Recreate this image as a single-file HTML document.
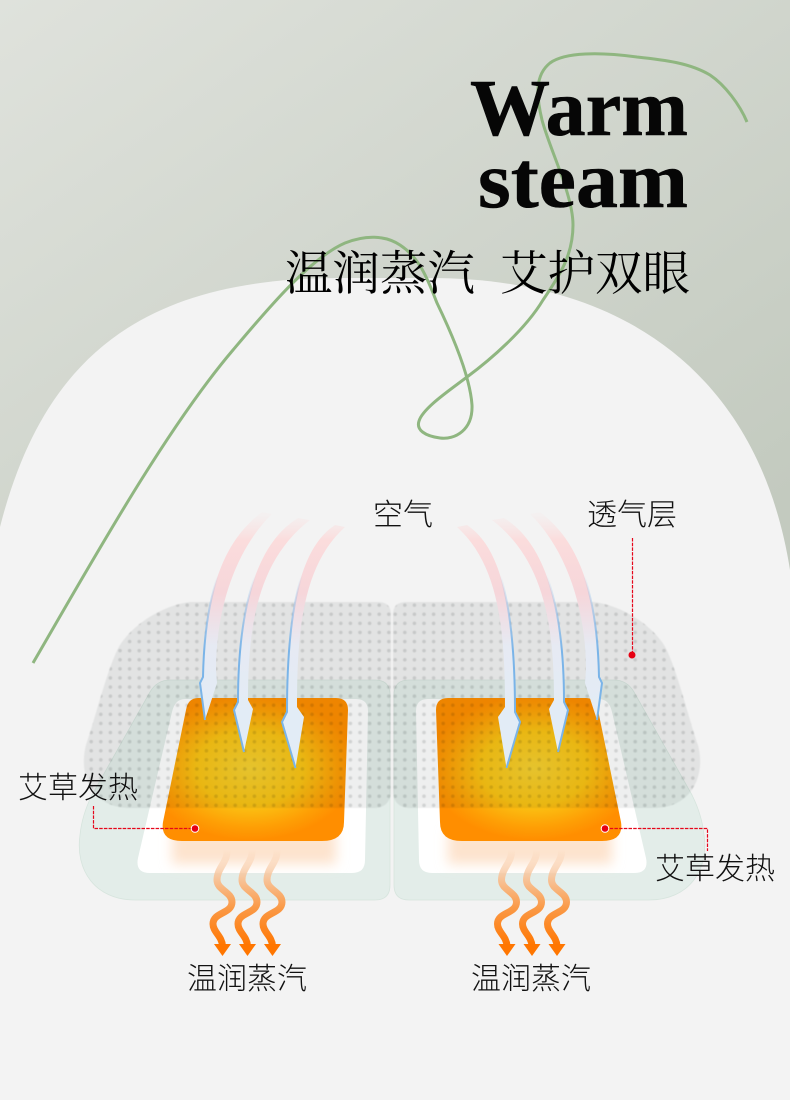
<!DOCTYPE html>
<html><head><meta charset="utf-8"><style>
html,body{margin:0;padding:0;width:790px;height:1100px;overflow:hidden;background:#f3f3f3}
svg{display:block}
.s{font-family:"Liberation Sans","Noto Sans CJK SC",sans-serif;font-size:30px;font-weight:300;fill:#111}
.t{font-family:"Liberation Serif","Noto Serif CJK SC",serif;font-size:47.5px;fill:#000}
.e{font-family:"Liberation Serif",serif;font-size:80px;font-weight:bold;fill:#060606;stroke:#060606;stroke-width:.6}
</style></head><body>
<svg width="790" height="1100" viewBox="0 0 790 1100" xmlns="http://www.w3.org/2000/svg">
<defs>
<linearGradient id="bg" gradientUnits="userSpaceOnUse" x1="0" y1="0" x2="500" y2="700">
<stop offset="0" stop-color="#dfe2dc"/><stop offset="1" stop-color="#c3cabf"/></linearGradient>
<pattern id="dots" width="9.6" height="9.1" patternUnits="userSpaceOnUse">
<rect width="9.6" height="9.1" fill="#eeefef"/>
<circle cx="4.8" cy="4.5" r="1.8" fill="#d0d2d2"/>
</pattern>
<filter id="soft" x="-5%" y="-5%" width="110%" height="110%"><feGaussianBlur stdDeviation=".5"/></filter>
<filter id="blur" x="-30%" y="-60%" width="160%" height="220%"><feGaussianBlur stdDeviation="6"/></filter>
<radialGradient id="or" gradientUnits="userSpaceOnUse" cx="250" cy="768" r="106" gradientTransform="translate(250 768) scale(1 .68) translate(-250 -768)">
<stop offset="0" stop-color="#f6d030"/><stop offset=".5" stop-color="#fac414"/><stop offset=".82" stop-color="#fe9f05"/><stop offset="1" stop-color="#ff8e00"/></radialGradient>
<linearGradient id="air" gradientUnits="userSpaceOnUse" x1="0" y1="490" x2="0" y2="720">
<stop offset=".08" stop-color="#f6e6e6" stop-opacity="0"/><stop offset=".22" stop-color="#fbdcdc"/><stop offset=".45" stop-color="#f6d6da"/><stop offset=".68" stop-color="#e6eaf3"/><stop offset="1" stop-color="#e2ecf6"/></linearGradient>
<linearGradient id="edge" gradientUnits="userSpaceOnUse" x1="0" y1="575" x2="0" y2="650">
<stop offset="0" stop-color="#7ab4e8" stop-opacity="0"/><stop offset="1" stop-color="#7ab4e8"/></linearGradient>
<linearGradient id="st" gradientUnits="userSpaceOnUse" x1="0" y1="850" x2="0" y2="946">
<stop offset="0" stop-color="#f9c9a2" stop-opacity="0"/><stop offset=".3" stop-color="#f7c49a"/><stop offset=".6" stop-color="#fa9a48"/><stop offset="1" stop-color="#ff7600"/></linearGradient>
<g id="patch">
<path d="M170,680 L375,680 Q390,680 390,695 L390,885 Q390,900 375,900 L135,900 C95,900 75,870 80,835 Q82,815 92,795 L150,692 Q157,680 170,680Z" fill="#e3ede9" stroke="#d6e4dd" stroke-width=".8"/>
<path d="M185,699 L356,699 Q368,699 368,711 L365,860 Q365,873 352,873 L150,873 Q135,873 138,858 L172,712 Q175,699 185,699Z" fill="#fff"/>
<rect x="172" y="830" width="164" height="34" fill="#fde3cd" filter="url(#blur)"/>
<path d="M198,698 L336,698 Q348,698 348,710 L344,822 Q344,841 322,841 L182,841 Q160,841 163,822 L186,710 Q188,698 198,698Z" fill="url(#or)"/>
<path d="M190,602 L378,602 Q391,602 391,615 L391,790 Q391,808 373,808 L130,808 C92,808 78,775 86,745 C95,720 108,665 120,645 C135,622 165,605 190,602Z" fill="url(#dots)" filter="url(#soft)" style="mix-blend-mode:multiply"/>
</g>
<g id="air3">
<path d="M262,512 C232,535 205,575 203,677 L200,683 L205,720 L217,683 L216,670 C216,610 235,550 272,514Z" fill="url(#air)"/>
<path d="M262,512 C232,535 205,575 203,677 L200,683 L205,720" fill="none" stroke="url(#edge)" stroke-width="2"/>
<path d="M298,518 C262,540 238,595 238,702 L234,710 L244,752 L253,709 L248,700 C248,625 258,560 310,520Z" fill="url(#air)"/>
<path d="M298,518 C262,540 238,595 238,702 L234,710 L244,752" fill="none" stroke="url(#edge)" stroke-width="2"/>
<path d="M335,525 C305,545 287,595 287,712 L282,722 L295.5,768 L304,717 L297,707 C297,630 303,565 345,527Z" fill="url(#air)"/>
<path d="M335,525 C305,545 287,595 287,712 L282,722 L295.5,768" fill="none" stroke="url(#edge)" stroke-width="2"/>
</g>
<g id="wave">
<path d="M227,850 C228,862 217,868 217,880 C217,890 232,892 232,902 C232,914 213,912 213,924 C213,932 222,936 222.5,946" fill="none" stroke="url(#st)" stroke-width="7"/>
<polygon points="214,944 231,944 222.5,956" fill="#ff7600"/>
</g>
</defs>

<rect width="790" height="1100" fill="url(#bg)"/>
<path d="M0,527 C45,350 150,278 340,278 L430,278 C630,278 760,380 790,570 L790,1100 L0,1100Z" fill="#f3f3f3"/>

<path d="M33,663 C90,565 165,430 233,350 C265,312 310,258 345,243 C365,235 385,235 400,245 C420,258 428,280 437,303 C450,330 470,375 472,405 C473,430 455,440 440,438 C425,436 416,430 419,421 C423,408 450,390 467,377 C490,360 525,330 543,300 C560,275 573,255 573,225 C573,195 550,150 542,120 C536,95 535,75 550,63 C565,52 600,52 637,57 C665,60 690,63 710,75 C725,85 740,105 747,122" fill="none" stroke="#8fb680" stroke-width="3"/>

<text class="e" x="470" y="135" textLength="218" lengthAdjust="spacingAndGlyphs">Warm</text>
<text class="e" x="478" y="207" textLength="210" lengthAdjust="spacingAndGlyphs">steam</text>
<text class="t" x="285" y="290">温润蒸汽</text>
<text class="t" x="500" y="290">艾护双眼</text>

<use href="#patch"/>
<use href="#patch" transform="translate(784,0) scale(-1,1)"/>
<use href="#air3"/>
<use href="#air3" transform="translate(802,0) scale(-1,1)"/>

<use href="#wave"/><use href="#wave" transform="translate(25,0)"/><use href="#wave" transform="translate(50,0)"/>
<use href="#wave" transform="translate(284.5,0)"/><use href="#wave" transform="translate(309.5,0)"/><use href="#wave" transform="translate(334.5,0)"/>

<g fill="none" stroke="#e5061b" stroke-width="1.2" stroke-dasharray="3.5 1.2">
<path d="M93.5,806 V828.5 H195"/>
<path d="M605,828.5 H707.5 V851"/>
<path d="M632.5,538 V655"/>
</g>
<g fill="#e60012">
<circle cx="195" cy="828.5" r="3.8" stroke="#fff" stroke-width="1"/>
<circle cx="605" cy="828.5" r="3.8" stroke="#fff" stroke-width="1"/>
<circle cx="632" cy="655" r="3.5"/>
</g>

<text class="s" x="373" y="525">空气</text>
<text class="s" x="587" y="525">透气层</text>
<text class="s" x="18" y="798">艾草发热</text>
<text class="s" x="655" y="879">艾草发热</text>
<text class="s" x="187" y="989">温润蒸汽</text>
<text class="s" x="471" y="989">温润蒸汽</text>
</svg>
</body></html>
